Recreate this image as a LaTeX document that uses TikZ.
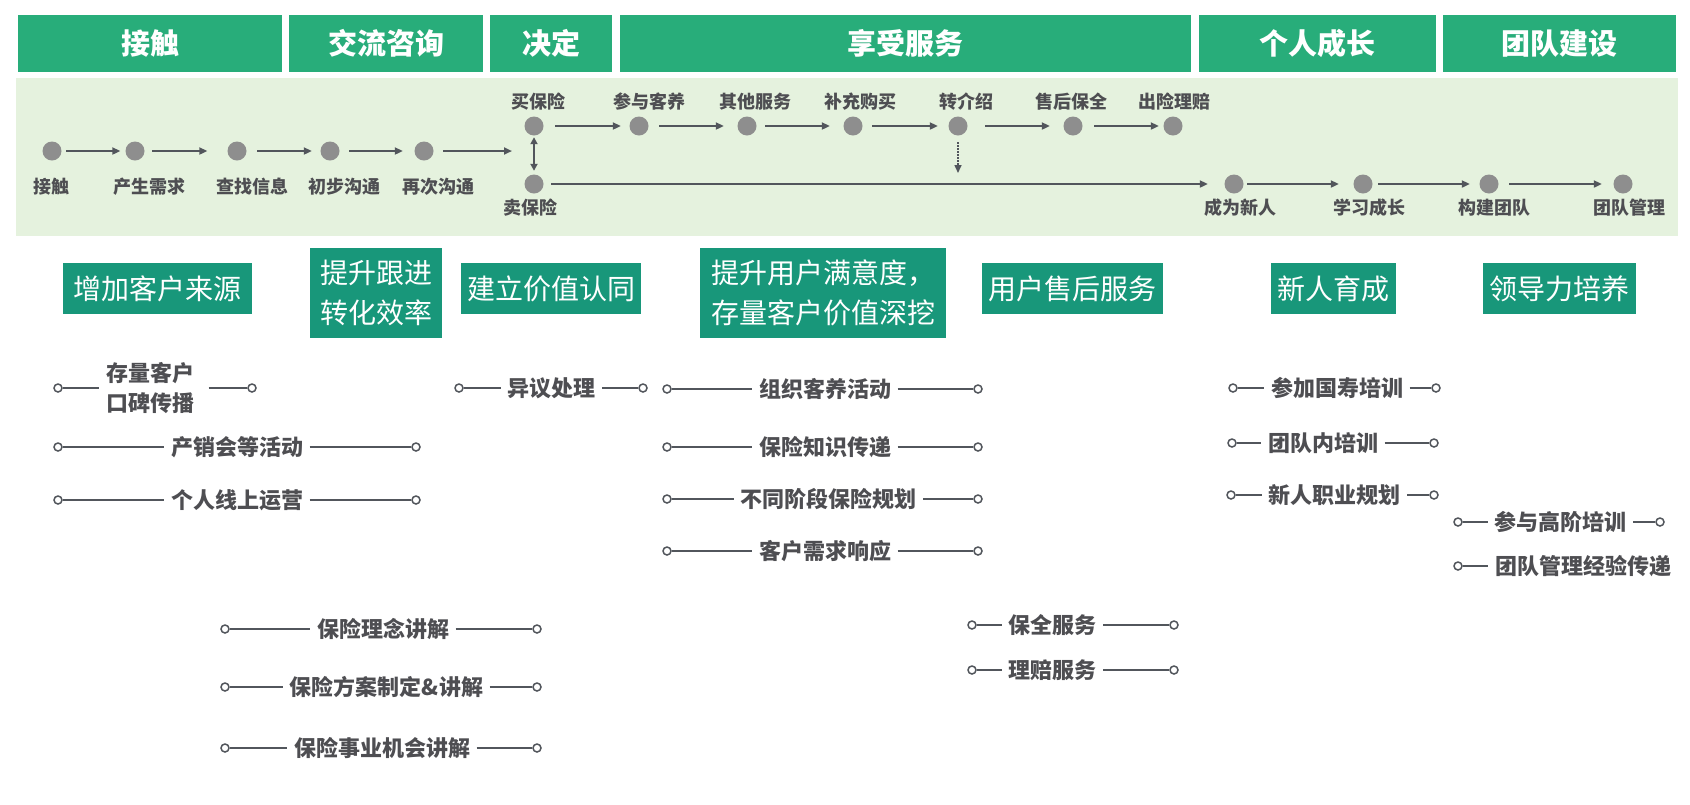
\documentclass[tikz,border=0pt]{standalone}
\usepackage{fontspec}
\setmainfont{Noto Sans CJK SC}
\usetikzlibrary{arrows.meta,positioning}
\definecolor{hdgreen}{RGB}{40,173,122}
\definecolor{bandgreen}{RGB}{229,242,222}
\definecolor{goalteal}{RGB}{24,151,122}
\definecolor{dotgray}{RGB}{142,142,142}
\definecolor{linegray}{RGB}{82,86,92}
\definecolor{txtgray}{RGB}{78,78,82}
\begin{document}
\begin{tikzpicture}[x=1pt, y=-1pt,
  header/.style={fill=hdgreen, text=white, font=\fontsize{29}{32}\selectfont\bfseries, minimum height=57pt, inner sep=0pt},
  goal/.style={fill=goalteal, text=white, font=\fontsize{28}{40}\selectfont, align=center, inner sep=0pt},
  flowdot/.style={circle, fill=dotgray, minimum size=19pt, inner sep=0pt},
  flowlab/.style={text=txtgray, font=\fontsize{18}{20}\selectfont\bfseries, inner sep=0pt},
  flow/.style={draw=linegray, line width=2pt, -{Triangle[length=8pt,width=7pt]}},
  endpt/.style={circle, draw=linegray, fill=white, line width=1.5pt, minimum size=8pt, inner sep=0pt},
  subtxt/.style={text=txtgray, font=\fontsize{22}{30}\selectfont\bfseries, align=center, inner xsep=6.5pt, inner ysep=0pt},
  subln/.style={draw=linegray, line width=1.6pt}]
\useasboundingbox (0,0) rectangle (1690,804);

% stage headers
\node[header, minimum width=264pt] (hcontact) at (150,43.5) {接触};
\node[header, minimum width=194pt] (hconsult) at (386,43.5) {交流咨询};
\node[header, minimum width=122pt] (hdecide) at (551,43.5) {决定};
\node[header, minimum width=571pt] (hservice) at (905.5,43.5) {享受服务};
\node[header, minimum width=237pt] (hgrow) at (1317.5,43.5) {个人成长};
\node[header, minimum width=233pt] (hteam) at (1559.5,43.5) {团队建设};

% flow band
\fill[bandgreen] (16,78) rectangle (1678,236);

\node[flowdot] (contact) at (52,151) {};
\node[flowdot] (need) at (135,151) {};
\node[flowdot] (search) at (237,151) {};
\node[flowdot] (talk) at (330,151) {};
\node[flowdot] (retalk) at (424,151) {};
\node[flowdot] (buy) at (534,126) {};
\node[flowdot] (sell) at (534,184) {};
\coordinate (fork) at (534,151);
\node[flowdot] (care) at (639,126) {};
\node[flowdot] (other) at (747,126) {};
\node[flowdot] (addbuy) at (853,126) {};
\node[flowdot] (refer) at (958,126) {};
\node[flowdot] (keep) at (1073,126) {};
\node[flowdot] (claim) at (1173,126) {};
\coordinate (referend) at (958,173);
\node[flowdot] (newbie) at (1234,184) {};
\node[flowdot] (learn) at (1363,184) {};
\node[flowdot] (build) at (1489,184) {};
\node[flowdot] (manage) at (1623,184) {};

\node[flowlab] (lcontact) at (52,187) {接触};
\node[flowlab] (lneed) at (149,187) {产生需求};
\node[flowlab] (lsearch) at (252,187) {查找信息};
\node[flowlab] (ltalk) at (344,187) {初步沟通};
\node[flowlab] (lretalk) at (438,187) {再次沟通};
\node[flowlab] (lbuy) at (538,102) {买保险};
\node[flowlab] (lsell) at (530,208) {卖保险};
\node[flowlab] (lcare) at (649,102) {参与客养};
\node[flowlab] (lother) at (755,102) {其他服务};
\node[flowlab] (laddbuy) at (860,102) {补充购买};
\node[flowlab] (lrefer) at (966,102) {转介绍};
\node[flowlab] (lkeep) at (1071,102) {售后保全};
\node[flowlab] (lclaim) at (1174,102) {出险理赔};
\node[flowlab] (lnewbie) at (1240,208) {成为新人};
\node[flowlab] (llearn) at (1369,208) {学习成长};
\node[flowlab] (lbuild) at (1494,208) {构建团队};
\node[flowlab] (lmanage) at (1629,208) {团队管理};

\draw[flow, shorten <=4.5pt, shorten >=5pt] (contact) -- (need);
\draw[flow, shorten <=7.5pt, shorten >=20pt] (need) -- (search);
\draw[flow, shorten <=10.5pt, shorten >=8.5pt] (search) -- (talk);
\draw[flow, shorten <=9.5pt, shorten >=11.5pt] (talk) -- (retalk);
\draw[flow, shorten <=9.5pt, shorten >=22pt] (retalk) -- (fork);
\draw[flow, {Triangle[length=7pt,width=7pt]}-{Triangle[length=7pt,width=7pt]}, shorten <=1.5pt, shorten >=3.5pt] (buy) -- (sell);
\draw[flow, shorten <=11.5pt, shorten >=8.5pt] (buy) -- (care);
\draw[flow, shorten <=10.5pt, shorten >=13.5pt] (care) -- (other);
\draw[flow, shorten <=8.5pt, shorten >=13.5pt] (other) -- (addbuy);
\draw[flow, shorten <=9.5pt, shorten >=10.5pt] (addbuy) -- (refer);
\draw[flow, shorten <=17.5pt, shorten >=13.5pt] (refer) -- (keep);
\draw[flow, shorten <=11.5pt, shorten >=4.5pt] (keep) -- (claim);
\draw[flow, densely dotted, line width=1.5pt, shorten <=6.5pt] (refer) -- (referend);
\draw[flow, shorten <=7.5pt, shorten >=16.5pt] (sell) -- (newbie);
\draw[flow, shorten <=3.5pt, shorten >=14.5pt] (newbie) -- (learn);
\draw[flow, shorten <=5.5pt, shorten >=9.5pt] (learn) -- (build);
\draw[flow, shorten <=10.5pt, shorten >=11.5pt] (build) -- (manage);

% goals
\node[goal, minimum width=189pt, minimum height=51pt] (gsource) at (157.5,288.5) {增加客户来源};
\node[goal, minimum width=132pt, minimum height=90pt] (gconvert) at (376,293) {提升跟进\\转化效率};
\node[goal, minimum width=180pt, minimum height=51pt] (gvalue) at (551,288.5) {建立价值认同};
\node[goal, minimum width=246pt, minimum height=90pt] (gsatisfy) at (823,293) {提升用户满意度，\\存量客户价值深挖};
\node[goal, minimum width=181pt, minimum height=51pt] (gafter) at (1072.5,288.5) {用户售后服务};
\node[goal, minimum width=125pt, minimum height=51pt] (gnewbie) at (1333.5,288.5) {新人育成};
\node[goal, minimum width=153pt, minimum height=51pt] (glead) at (1559.5,288.5) {领导力培养};

% source items
\node[subtxt] (wom) at (150,388) {存量客户\\口碑传播};
\node[endpt] (woml) at (58,388) {};
\node[endpt] (womr) at (252,388) {};
\draw[subln] (woml) -- (wom);
\draw[subln, shorten <=8pt] (wom) -- (womr);
\node[subtxt] (expo) at (237,447) {产销会等活动};
\node[endpt] (expol) at (58,447) {};
\node[endpt] (expor) at (416,447) {};
\draw[subln] (expol) -- (expo);
\draw[subln] (expo) -- (expor);
\node[subtxt] (online) at (237,500) {个人线上运营};
\node[endpt] (onlinel) at (58,500) {};
\node[endpt] (onliner) at (416,500) {};
\draw[subln] (onlinel) -- (online);
\draw[subln] (online) -- (onliner);

% consult items
\node[subtxt] (idea) at (383,629) {保险理念讲解};
\node[endpt] (ideal) at (225,629) {};
\node[endpt] (idear) at (537,629) {};
\draw[subln] (ideal) -- (idea);
\draw[subln] (idea) -- (idear);
\node[subtxt] (plan) at (386.5,687) {保险方案制定\&讲解};
\node[endpt] (planl) at (225,687) {};
\node[endpt] (planr) at (537,687) {};
\draw[subln] (planl) -- (plan);
\draw[subln] (plan) -- (planr);
\node[subtxt] (career) at (382,748) {保险事业机会讲解};
\node[endpt] (careerl) at (225,748) {};
\node[endpt] (careerr) at (537,748) {};
\draw[subln] (careerl) -- (career);
\draw[subln] (career) -- (careerr);

% value item
\node[subtxt] (objection) at (551.5,388) {异议处理};
\node[endpt] (objectionl) at (459,388) {};
\node[endpt] (objectionr) at (643,388) {};
\draw[subln] (objectionl) -- (objection);
\draw[subln] (objection) -- (objectionr);

% satisfaction items
\node[subtxt] (event) at (825,389) {组织客养活动};
\node[endpt] (eventl) at (667,389) {};
\node[endpt] (eventr) at (978,389) {};
\draw[subln] (eventl) -- (event);
\draw[subln] (event) -- (eventr);
\node[subtxt] (know) at (825,447) {保险知识传递};
\node[endpt] (knowl) at (667,447) {};
\node[endpt] (knowr) at (978,447) {};
\draw[subln] (knowl) -- (know);
\draw[subln] (know) -- (knowr);
\node[subtxt] (stage) at (828.5,499) {不同阶段保险规划};
\node[endpt] (stagel) at (667,499) {};
\node[endpt] (stager) at (978,499) {};
\draw[subln] (stagel) -- (stage);
\draw[subln] (stage) -- (stager);
\node[subtxt] (respond) at (825,551) {客户需求响应};
\node[endpt] (respondl) at (667,551) {};
\node[endpt] (respondr) at (978,551) {};
\draw[subln] (respondl) -- (respond);
\draw[subln] (respond) -- (respondr);

% after-sale items
\node[subtxt] (preserve) at (1052.5,625) {保全服务};
\node[endpt] (preservel) at (972,625) {};
\node[endpt] (preserver) at (1174,625) {};
\draw[subln] (preservel) -- (preserve);
\draw[subln] (preserve) -- (preserver);
\node[subtxt] (settle) at (1052.5,670) {理赔服务};
\node[endpt] (settlel) at (972,670) {};
\node[endpt] (settler) at (1174,670) {};
\draw[subln] (settlel) -- (settle);
\draw[subln] (settle) -- (settler);

% newbie items
\node[subtxt] (gsc) at (1337,388) {参加国寿培训};
\node[endpt] (gscl) at (1233,388) {};
\node[endpt] (gscr) at (1436,388) {};
\draw[subln] (gscl) -- (gsc);
\draw[subln] (gsc) -- (gscr);
\node[subtxt] (intrain) at (1323,443) {团队内培训};
\node[endpt] (intrainl) at (1232,443) {};
\node[endpt] (intrainr) at (1434,443) {};
\draw[subln] (intrainl) -- (intrain);
\draw[subln] (intrain) -- (intrainr);
\node[subtxt] (cplan) at (1334.5,495) {新人职业规划};
\node[endpt] (cplanl) at (1231,495) {};
\node[endpt] (cplanr) at (1434,495) {};
\draw[subln] (cplanl) -- (cplan);
\draw[subln] (cplan) -- (cplanr);

% leadership items
\node[subtxt] (senior) at (1560.5,522) {参与高阶培训};
\node[endpt] (seniorl) at (1458,522) {};
\node[endpt] (seniorr) at (1660,522) {};
\draw[subln] (seniorl) -- (senior);
\draw[subln] (senior) -- (seniorr);
\node[subtxt] (share) at (1583,566) {团队管理经验传递};
\node[endpt] (sharel) at (1458,566) {};
\draw[subln] (sharel) -- (share);
\end{tikzpicture}
\end{document}
